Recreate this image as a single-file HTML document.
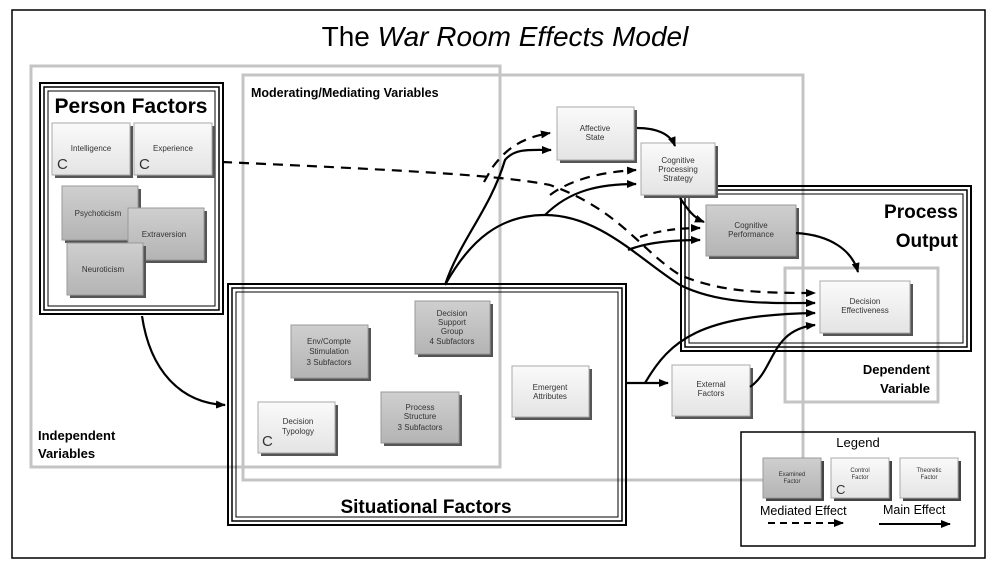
<!DOCTYPE html>
<html><head><meta charset="utf-8"><style>
html,body{margin:0;padding:0;background:#fff}
svg{display:block}
text{font-family:"Liberation Sans",sans-serif}
</style></head><body>
<svg width="997" height="577" viewBox="0 0 997 577" xmlns="http://www.w3.org/2000/svg">
<defs>
<linearGradient id="lg" x1="0" y1="0" x2="0" y2="1"><stop offset="0" stop-color="#fafafa"/><stop offset="1" stop-color="#e4e4e4"/></linearGradient>
<linearGradient id="dg" x1="0" y1="0" x2="0" y2="1"><stop offset="0" stop-color="#cfcfcf"/><stop offset="1" stop-color="#b4b4b4"/></linearGradient>
<marker id="ah" markerWidth="10" markerHeight="8" refX="9" refY="4" orient="auto" markerUnits="userSpaceOnUse"><path d="M0,0 L10,4 L0,8 z" fill="#000"/></marker>
</defs>
<rect x="0" y="0" width="997" height="577" fill="#fff"/>
<rect x="12" y="10" width="973" height="548" fill="none" stroke="#000" stroke-width="1.5"/>
<text x="505" y="46" font-size="28" text-anchor="middle">The <tspan font-style="italic">War Room Effects Model</tspan></text>

<!-- gray grouping boxes -->
<rect x="31" y="66" width="469" height="401" fill="none" stroke="#c4c4c4" stroke-width="3"/>
<rect x="243" y="75" width="560" height="405" fill="none" stroke="#c4c4c4" stroke-width="3"/>
<rect x="785" y="268" width="153" height="134" fill="none" stroke="#c4c4c4" stroke-width="3"/>
<text x="38" y="440" font-size="13" font-weight="bold">Independent</text>
<text x="38" y="458" font-size="13" font-weight="bold">Variables</text>
<text x="251" y="97" font-size="12.5" font-weight="bold">Moderating/Mediating Variables</text>

<!-- triple boxes -->
<g fill="none" stroke="#000">
<rect x="40" y="83" width="183" height="231" stroke-width="2"/><rect x="44" y="87" width="175" height="223" stroke-width="1.5"/><rect x="48" y="91" width="167" height="215" stroke-width="1"/>
<rect x="228" y="284" width="398" height="241" stroke-width="2"/><rect x="232" y="288" width="390" height="233" stroke-width="1.5"/><rect x="236" y="292" width="382" height="225" stroke-width="1"/>
<rect x="681" y="186" width="290" height="165" stroke-width="2"/><rect x="685" y="190" width="282" height="157" stroke-width="1.5"/><rect x="689" y="194" width="274" height="149" stroke-width="1"/>
<rect x="741" y="432" width="234" height="114" stroke-width="1.5"/>
</g>
<text x="131" y="113" font-size="21" font-weight="bold" text-anchor="middle">Person Factors</text>
<text x="426" y="513" font-size="19" font-weight="bold" text-anchor="middle">Situational Factors</text>
<text x="958" y="218" font-size="19" font-weight="bold" text-anchor="end">Process</text>
<text x="958" y="247" font-size="19" font-weight="bold" text-anchor="end">Output</text>
<text x="930" y="374" font-size="13" font-weight="bold" text-anchor="end">Dependent</text>
<text x="930" y="393" font-size="13" font-weight="bold" text-anchor="end">Variable</text>

<!-- nodes -->
<g font-size="8" fill="#333" text-anchor="middle">
<g><rect x="55" y="126" width="78" height="52" fill="#555"/><rect x="52" y="123" width="78" height="52" fill="url(#lg)" stroke="#aaa"/><text x="91" y="151">Intelligence</text><text x="57" y="169" font-size="15" text-anchor="start">C</text></g>
<g><rect x="137" y="126" width="78" height="52" fill="#555"/><rect x="134" y="123" width="78" height="52" fill="url(#lg)" stroke="#aaa"/><text x="173" y="151">Experience</text><text x="139" y="169" font-size="15" text-anchor="start">C</text></g>
<g><rect x="65" y="189" width="76" height="54" fill="#555"/><rect x="62" y="186" width="76" height="54" fill="url(#dg)" stroke="#999"/><text x="98" y="216">Psychoticism</text></g>
<g><rect x="131" y="211" width="76" height="52" fill="#555"/><rect x="128" y="208" width="76" height="52" fill="url(#dg)" stroke="#999"/><text x="164" y="237">Extraversion</text></g>
<g><rect x="70" y="246" width="76" height="52" fill="#555"/><rect x="67" y="243" width="76" height="52" fill="url(#dg)" stroke="#999"/><text x="103" y="272">Neuroticism</text></g>

<g><rect x="560" y="110" width="77" height="53" fill="#555"/><rect x="557" y="107" width="77" height="53" fill="url(#lg)" stroke="#aaa"/><text x="595" y="131">Affective</text><text x="595" y="140">State</text></g>
<g><rect x="644" y="146" width="74" height="52" fill="#555"/><rect x="641" y="143" width="74" height="52" fill="url(#lg)" stroke="#aaa"/><text x="678" y="163">Cognitive</text><text x="678" y="172">Processing</text><text x="678" y="181">Strategy</text></g>
<g><rect x="709" y="208" width="90" height="51" fill="#555"/><rect x="706" y="205" width="90" height="51" fill="url(#dg)" stroke="#999"/><text x="751" y="228">Cognitive</text><text x="751" y="237">Performance</text></g>
<g><rect x="823" y="284" width="90" height="52" fill="#555"/><rect x="820" y="281" width="90" height="52" fill="url(#lg)" stroke="#aaa"/><text x="865" y="304">Decision</text><text x="865" y="313">Effectiveness</text></g>

<g><rect x="294" y="328" width="77" height="53" fill="#555"/><rect x="291" y="325" width="77" height="53" fill="url(#dg)" stroke="#999"/><text x="329" y="344">Env/Compte</text><text x="329" y="354">Stimulation</text><text x="329" y="365">3 Subfactors</text></g>
<g><rect x="418" y="304" width="75" height="53" fill="#555"/><rect x="415" y="301" width="75" height="53" fill="url(#dg)" stroke="#999"/><text x="452" y="316">Decision</text><text x="452" y="325">Support</text><text x="452" y="334">Group</text><text x="452" y="344">4 Subfactors</text></g>
<g><rect x="261" y="405" width="77" height="51" fill="#555"/><rect x="258" y="402" width="77" height="51" fill="url(#lg)" stroke="#aaa"/><text x="298" y="424">Decision</text><text x="298" y="434">Typology</text><text x="262" y="446" font-size="15" text-anchor="start">C</text></g>
<g><rect x="384" y="395" width="78" height="51" fill="#555"/><rect x="381" y="392" width="78" height="51" fill="url(#dg)" stroke="#999"/><text x="420" y="410">Process</text><text x="420" y="419">Structure</text><text x="420" y="430">3 Subfactors</text></g>
<g><rect x="515" y="369" width="77" height="51" fill="#555"/><rect x="512" y="366" width="77" height="51" fill="url(#lg)" stroke="#aaa"/><text x="550" y="390">Emergent</text><text x="550" y="399">Attributes</text></g>
<g><rect x="675" y="368" width="78" height="51" fill="#555"/><rect x="672" y="365" width="78" height="51" fill="url(#lg)" stroke="#aaa"/><text x="711" y="387">External</text><text x="711" y="396">Factors</text></g>

<!-- legend -->
<text x="858" y="447" font-size="13" fill="#000">Legend</text>
<g font-size="6"><rect x="766" y="461" width="58" height="40" fill="#444"/><rect x="763" y="458" width="58" height="40" fill="url(#dg)" stroke="#999"/><text x="792" y="476">Examined</text><text x="792" y="483">Factor</text></g>
<g font-size="6"><rect x="834" y="461" width="58" height="40" fill="#444"/><rect x="831" y="458" width="58" height="40" fill="url(#lg)" stroke="#aaa"/><text x="860" y="472">Control</text><text x="860" y="479">Factor</text><text x="836" y="494" font-size="13" text-anchor="start">C</text></g>
<g font-size="6"><rect x="903" y="461" width="58" height="40" fill="#444"/><rect x="900" y="458" width="58" height="40" fill="url(#lg)" stroke="#aaa"/><text x="929" y="472">Theoretic</text><text x="929" y="479">Factor</text></g>
<text x="760" y="515" font-size="12.5" fill="#000" text-anchor="start">Mediated Effect</text>
<text x="883" y="514" font-size="12.5" fill="#000" text-anchor="start">Main Effect</text>
</g>
<g fill="none" stroke="#000" stroke-width="2">
<path d="M768,523 L843,523" stroke-dasharray="7,5" marker-end="url(#ah)"/>
<path d="M879,524 L950,524" marker-end="url(#ah)"/>
</g>

<!-- connectors -->
<g fill="none" stroke="#000" stroke-width="2.2">
<path d="M222,162 C400,170 500,175 550,185 C620,210 640,250 680,275 C720,292 760,293 815,293" stroke-dasharray="10,7" marker-end="url(#ah)"/>
<path d="M484,182 L492,168 C505,150 520,138 550,133" stroke-dasharray="10,7" marker-end="url(#ah)"/>
<path d="M550,195 C570,180 600,172 636,170" stroke-dasharray="10,7" marker-end="url(#ah)"/>
<path d="M640,237 C660,230 680,228 700,228" stroke-dasharray="8,6" marker-end="url(#ah)"/>

<path d="M445,285 C460,240 490,210 505,160 C515,148 530,150 551,150" marker-end="url(#ah)"/>
<path d="M445,285 C470,240 500,215 545,215 C600,215 640,260 680,285 C720,305 770,303 815,303" marker-end="url(#ah)"/>
<path d="M545,215 C570,190 600,184 636,184" marker-end="url(#ah)"/>
<path d="M628,250 C645,243 670,240 700,240" marker-end="url(#ah)"/>
<path d="M637,128 C655,128 670,133 675,146" marker-end="url(#ah)"/>
<path d="M680,198 C688,210 694,218 704,222" marker-end="url(#ah)"/>
<path d="M796,233 C830,235 852,250 858,272" marker-end="url(#ah)"/>
<path d="M626,383 L668,383" marker-end="url(#ah)"/>
<path d="M645,383 C670,340 700,315 815,313" marker-end="url(#ah)"/>
<path d="M750,387 C775,370 770,330 815,325" marker-end="url(#ah)"/>
<path d="M142,316 C150,370 180,403 225,405" marker-end="url(#ah)"/>
</g>
</svg>
</body></html>
